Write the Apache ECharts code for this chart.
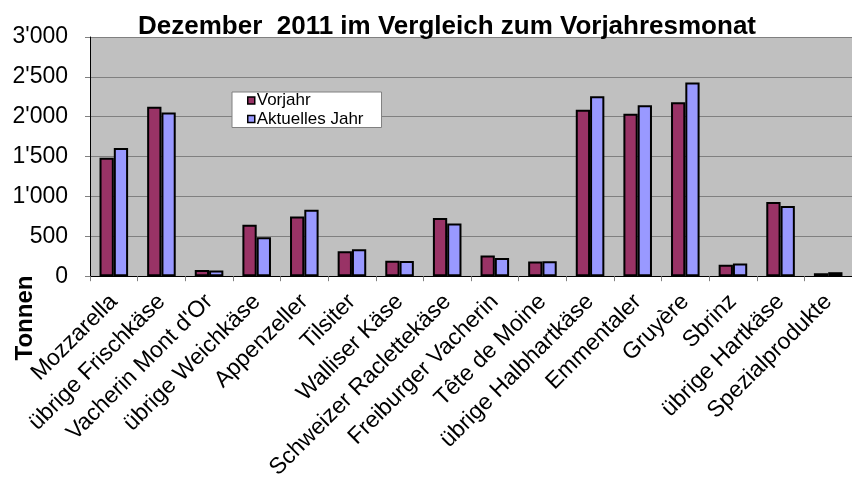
<!DOCTYPE html>
<html>
<head>
<meta charset="utf-8">
<script src="https://cdn.jsdelivr.net/npm/echarts@6/dist/echarts.min.js"></script>
<style>
  html, body { margin: 0; padding: 0; background: #ffffff; }
  #chart { width: 852px; height: 482px; }
</style>
</head>
<body>
<div id="chart"></div>
<script>
const chartTitle = "Dezember  2011 im Vergleich zum Vorjahresmonat";
const yAxisTitle = "Tonnen";
const categories = [
  "Mozzarella", "übrige Frischkäse", "Vacherin Mont d'Or", "übrige Weichkäse",
  "Appenzeller", "Tilsiter", "Walliser Käse", "Schweizer Raclettekäse",
  "Freiburger Vacherin", "Tête de Moine", "übrige Halbhartkäse", "Emmentaler",
  "Gruyère", "Sbrinz", "übrige Hartkäse", "Spezialprodukte"
];
const seriesNames = ["Vorjahr", "Aktuelles Jahr"];
const vorjahr = [1487, 2125, 78, 645, 750, 312, 195, 729, 258, 183, 2087, 2037, 2183, 145, 929, 37];
const aktuell = [1607, 2054, 72, 487, 832, 337, 190, 662, 229, 186, 2258, 2145, 2429, 158, 879, 50];
const yTickValues = [0, 500, 1000, 1500, 2000, 2500, 3000];
const yTickLabels = ["0", "500", "1'000", "1'500", "2'000", "2'500", "3'000"];

const FONT = "'Liberation Sans', Arial, sans-serif";
const chart = echarts.init(document.getElementById('chart'), null, { renderer: 'canvas' });

chart.setOption({
  backgroundColor: '#ffffff',
  animation: false,
  title: {
    text: chartTitle,
    left: 442,
    top: 9,
    textAlign: 'center',
    textStyle: { fontFamily: FONT, fontSize: 26, fontWeight: 'bold', color: '#000' }
  },
  legend: {
    orient: 'vertical',
    left: 232,
    top: 92,
    data: seriesNames,
    icon: 'rect',
    itemWidth: 7,
    itemHeight: 7,
    itemGap: 1.5,
    backgroundColor: '#ffffff',
    borderColor: '#808080',
    borderWidth: 1,
    borderRadius: 0,
    padding: [0, 18, 0, 15],
    itemStyle: { borderColor: '#000', borderWidth: 1.5 },
    textStyle: { fontFamily: FONT, fontSize: 17, color: '#000', lineHeight: 16, padding: [0, 0, 0, -3] }
  },
  graphic: [{
    type: 'text',
    x: 25,
    y: 318,
    rotation: Math.PI / 2,
    style: {
      text: yAxisTitle,
      fontFamily: FONT,
      fontSize: 24,
      fontWeight: 'bold',
      fill: '#000',
      textAlign: 'center',
      textVerticalAlign: 'middle'
    }
  }],
  grid: {
    left: 90,
    top: 37,
    right: 0,
    bottom: 205,
    show: true,
    backgroundColor: '#C0C0C0',
    borderWidth: 0
  },
  xAxis: {
    type: 'category',
    data: categories,
    axisLine: { show: true, lineStyle: { color: '#000', width: 1 } },
    axisTick: { show: true, length: 5, lineStyle: { color: '#808080' } },
    axisLabel: {
      rotate: 45,
      interval: 0,
      margin: 22,
      fontFamily: FONT,
      fontSize: 23,
      color: '#000'
    }
  },
  yAxis: {
    type: 'value',
    min: 0,
    max: 3000,
    interval: 500,
    axisLine: { show: true, lineStyle: { color: '#000', width: 1 } },
    axisTick: { show: true, length: 5, lineStyle: { color: '#808080' } },
    splitLine: { show: true, lineStyle: { color: '#808080', width: 1 } },
    axisLabel: {
      margin: 22,
      fontFamily: FONT,
      fontSize: 23,
      color: '#000',
      formatter: function (v) {
        const i = yTickValues.indexOf(v);
        return i >= 0 ? yTickLabels[i] : '';
      }
    }
  },
  series: [
    {
      name: seriesNames[0],
      type: 'bar',
      data: vorjahr,
      barGap: '0%',
      barCategoryGap: '40%',
      itemStyle: { color: '#993366', borderColor: '#000', borderWidth: 2 }
    },
    {
      name: seriesNames[1],
      type: 'bar',
      data: aktuell,
      barGap: '0%',
      barCategoryGap: '40%',
      itemStyle: { color: '#9999FF', borderColor: '#000', borderWidth: 2 }
    }
  ]
});
</script>
</body>
</html>
